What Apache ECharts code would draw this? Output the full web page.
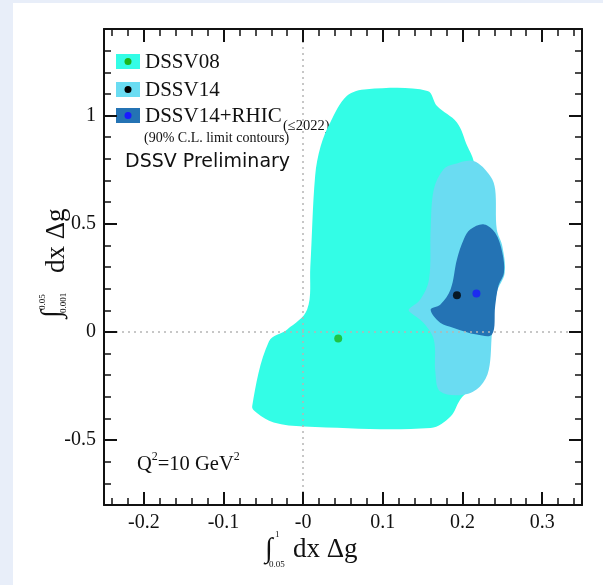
<!DOCTYPE html>
<html><head><meta charset="utf-8">
<script src="https://cdn.jsdelivr.net/npm/echarts@6/dist/echarts.min.js"></script>
<style>html,body{margin:0;padding:0;background:#fff}#c{width:603px;height:585px}</style>
</head><body><div id="c"></div>
<script>
// 90% C.L. contours: [ ∫0.05^1 dx Δg , ∫0.001^0.05 dx Δg ]
const dssv08Contour = [
  [0.055,1.091],[0.080,1.122],[0.156,1.114],[0.168,1.044],[0.193,0.968],[0.206,0.859],
  [0.214,0.790],[0.222,0.612],[0.225,0.150],[0.217,-0.221],[0.197,-0.313],[0.185,-0.391],
  [0.160,-0.444],[0.001,-0.437],[-0.037,-0.419],[-0.058,-0.375],[-0.064,-0.344],
  [-0.043,-0.044],[-0.020,0.011],[0.005,0.103],[0.009,0.304],[0.015,0.720],[0.022,0.859],[0.034,0.968]
];
const dssv14Contour = [
  [0.189,0.775],[0.214,0.790],[0.235,0.720],[0.241,0.659],[0.243,0.474],[0.250,0.396],
  [0.253,0.273],[0.243,0.181],[0.237,-0.005],[0.233,-0.175],[0.222,-0.252],[0.2015,-0.290],
  [0.172,-0.275],[0.166,-0.190],[0.164,-0.036],[0.151,0.042],[0.135,0.088],[0.1325,0.103],
  [0.147,0.150],[0.158,0.242],[0.160,0.474],[0.164,0.659],[0.176,0.751]
];
const dssv14RhicContour = [
  [0.210,0.474],[0.227,0.497],[0.241,0.458],[0.250,0.366],[0.252,0.273],[0.245,0.211],
  [0.241,0.119],[0.237,-0.0125],[0.218,-0.0125],[0.189,0.0185],[0.172,0.042],[0.160,0.103],
  [0.172,0.126],[0.185,0.196],[0.193,0.335],[0.2015,0.427]
];
const bestFitDssv08 = [[0.044,-0.030]];
const bestFitDssv14 = [[0.193,0.170]];
const bestFitRhic = [[0.2175,0.177]];

const xMajorTicks = [-0.2,-0.1,0,0.1,0.2,0.3];
const xMinorTicks = [-0.24,-0.22,-0.18,-0.16,-0.14,-0.12,-0.08,-0.06,-0.04,-0.02,0.02,0.04,0.06,0.08,0.12,0.14,0.16,0.18,0.22,0.24,0.26,0.28,0.32,0.34];
const yMajorTicks = [-0.5,0,0.5,1];
const yMinorTicks = [-0.7,-0.6,-0.4,-0.3,-0.2,-0.1,0.1,0.2,0.3,0.4,0.6,0.7,0.8,0.9,1.1,1.2,1.3];
const xRange = [-0.25,0.35];
const yRange = [-0.8,1.4];

const SERIF = '"Liberation Serif","DejaVu Serif",serif';
const C08 = '#33fde6', C14 = '#6adcf2', CRH = '#2473b4';
const INK = '#111';

function mkAxis(kind, position, ticks, len, width, withLabels, withLine) {
  const range = kind === 'x' ? xRange : yRange;
  return {
    type:'value', position, min:range[0], max:range[1], gridIndex:0,
    splitLine:{show:false},
    axisLine:{show:withLine, onZero:false, lineStyle:{color:INK, width:2}},
    axisTick:{show:true, inside:true, length:len, customValues:ticks, lineStyle:{color:INK, width}},
    axisLabel:withLabels ? {show:true, customValues:ticks, margin:8, color:INK, fontFamily:SERIF, fontSize:20,
       formatter:v => (Math.abs(v) < 1e-9 ? (kind==='x' ? '-0' : '0') : String(v))} : {show:false},
    z:10
  };
}

function polySeries(name, pts, color, z) {
  return {
    type:'custom', name, xAxisIndex:0, yAxisIndex:0, z, data:pts, clip:true, silent:true,
    renderItem(params, api) {
      if (params.dataIndex !== 0) return null;
      const coords = pts.map(p => api.coord(p));
      return {type:'polygon', shape:{points:coords, smooth:0.35}, style:{fill:color}};
    }
  };
}
function pointSeries(pts, color) {
  return {type:'scatter', xAxisIndex:0, yAxisIndex:0, data:pts, symbolSize:8, z:6, silent:true,
    itemStyle:{color}};
}

const chart = echarts.init(document.getElementById('c'), null, {renderer:'canvas'});
chart.setOption({
  animation:false,
  backgroundColor:'#ffffff',
  grid:{left:104, top:29, right:21, bottom:80},
  xAxis:[
    mkAxis('x','bottom',xMajorTicks,13,2,true,true),
    mkAxis('x','bottom',xMinorTicks,7,1.5,false,false),
    mkAxis('x','top',xMajorTicks,13,2,false,true),
    mkAxis('x','top',xMinorTicks,7,1.5,false,false)
  ],
  yAxis:[
    mkAxis('y','left',yMajorTicks,13,2,true,true),
    mkAxis('y','left',yMinorTicks,7,1.5,false,false),
    mkAxis('y','right',yMajorTicks,13,2,false,true),
    mkAxis('y','right',yMinorTicks,7,1.5,false,false)
  ],
  series:[
    polySeries('DSSV08', dssv08Contour, C08, 2),
    polySeries('DSSV14', dssv14Contour, C14, 3),
    polySeries('DSSV14+RHIC', dssv14RhicContour, CRH, 4),
    {type:'line', xAxisIndex:0, yAxisIndex:0, data:[], z:5, silent:true,
      markLine:{symbol:'none', silent:true, label:{show:false},
        lineStyle:{type:[2,4], color:'#b5b5b5', width:1.5},
        data:[{xAxis:0},{yAxis:0}]}},
    pointSeries(bestFitDssv08, '#1cb51c'),
    pointSeries(bestFitDssv14, '#000000'),
    pointSeries(bestFitRhic, '#1a1aff')
  ],
  graphic:[
    {type:'rect', shape:{x:0,y:0,width:13,height:585}, style:{fill:'#e8eef9'}, z:-10},
    {type:'rect', shape:{x:0,y:0,width:603,height:3}, style:{fill:'#e8eef9'}, z:-10},
    // legend
    {type:'rect', shape:{x:116,y:54,width:24,height:15}, style:{fill:C08}},
    {type:'circle', shape:{cx:128,cy:61.5,r:3.5}, style:{fill:'#1cb51c'}},
    {type:'rect', shape:{x:116,y:82,width:24,height:15}, style:{fill:C14}},
    {type:'circle', shape:{cx:128,cy:89.5,r:3.5}, style:{fill:'#000'}},
    {type:'rect', shape:{x:116,y:108,width:24,height:15}, style:{fill:CRH}},
    {type:'circle', shape:{cx:128,cy:115.5,r:3.5}, style:{fill:'#1a1aff'}},
    {type:'text', x:145, y:62, style:{text:'DSSV08', font:'21px '+SERIF, fill:INK, verticalAlign:'middle'}},
    {type:'text', x:145, y:90, style:{text:'DSSV14', font:'21px '+SERIF, fill:INK, verticalAlign:'middle'}},
    {type:'text', x:145, y:116, style:{text:'DSSV14+RHIC', font:'21px '+SERIF, fill:INK, verticalAlign:'middle'}},
    {type:'text', x:283, y:126, style:{text:'(≤2022)', font:'14.5px '+SERIF, fill:INK, verticalAlign:'middle'}},
    {type:'text', x:144, y:138, style:{text:'(90% C.L. limit contours)', font:'14px '+SERIF, fill:INK, verticalAlign:'middle'}},
    {type:'text', x:125, y:162, style:{text:'DSSV Preliminary', font:'19px "DejaVu Sans",sans-serif', fill:INK, verticalAlign:'middle'}},
    {type:'text', x:137, y:463, style:{text:'{a|Q}{s|2}{a|=10 GeV}{s|2}', fill:INK, verticalAlign:'middle',
      rich:{a:{fontFamily:SERIF, fontSize:20.5, fill:INK, lineHeight:24, verticalAlign:'bottom'},
            s:{fontFamily:SERIF, fontSize:12, fill:INK, lineHeight:24, verticalAlign:'top'}}}},
    // x axis title
    {type:'group', x:265, y:550, children:[
      {type:'text', x:0, y:0, style:{text:'∫', font:'28px '+SERIF, fill:INK, verticalAlign:'middle'}},
      {type:'text', x:10, y:-15, style:{text:'1', font:'9px '+SERIF, fill:INK, verticalAlign:'middle'}},
      {type:'text', x:4, y:15, style:{text:'0.05', font:'9px '+SERIF, fill:INK, verticalAlign:'middle'}},
      {type:'text', x:28, y:0, style:{text:'dx Δg', font:'27px '+SERIF, fill:INK, verticalAlign:'middle'}}
    ]},
    // y axis title (rotated)
    {type:'group', x:57, y:318, rotation:Math.PI/2, children:[
      {type:'text', x:0, y:-4, style:{text:'∫', font:'28px '+SERIF, fill:INK, verticalAlign:'middle'}},
      {type:'text', x:8, y:-14, style:{text:'0.05', font:'9px '+SERIF, fill:INK, verticalAlign:'middle'}},
      {type:'text', x:5, y:7, style:{text:'0.001', font:'9px '+SERIF, fill:INK, verticalAlign:'middle'}},
      {type:'text', x:45, y:0, style:{text:'dx Δg', font:'27px '+SERIF, fill:INK, verticalAlign:'middle'}}
    ]}
  ]
});
</script></body></html>
